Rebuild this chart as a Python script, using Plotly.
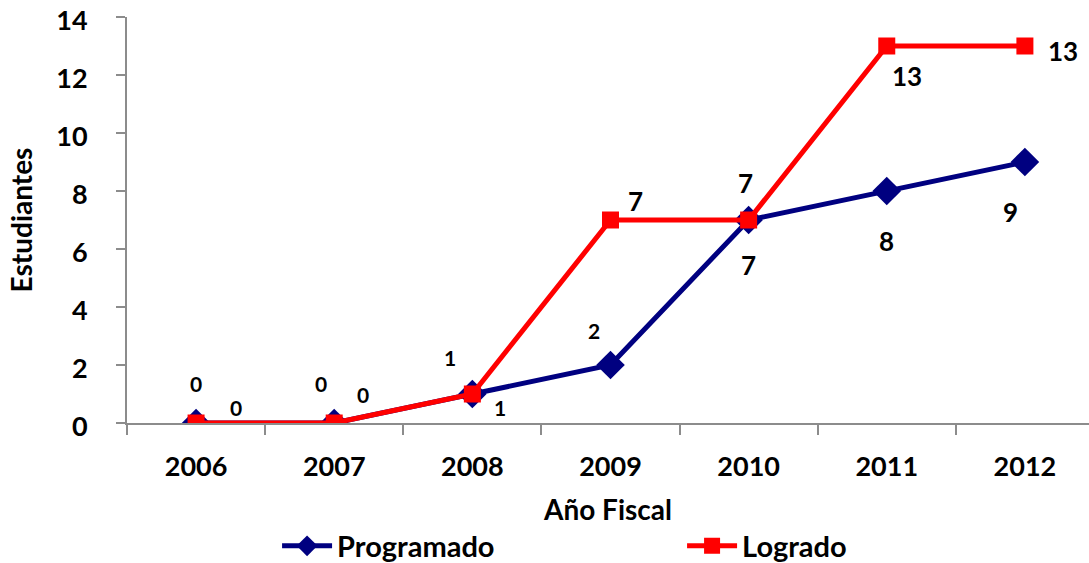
import plotly.graph_objects as go

years = ["2006", "2007", "2008", "2009", "2010", "2011", "2012"]
programado = [0, 0, 1, 2, 7, 8, 9]
logrado = [0, 0, 1, 7, 7, 13, 13]
y_ticks = [0, 2, 4, 6, 8, 10, 12, 14]

# label placement (pixel shifts) and sizes, style only
prog_shift = [(0, 40), (-13, 40), (-22, 37), (-16, 35), (0, -45), (0, -50), (-14, -50)]
prog_size = [21, 21, 21, 21, 26, 26, 26]
logr_shift = [(40, 16), (29, 29), (28, -13), (25, 19), (-3, 37), (20, -30), (38, -5)]
logr_size = [21, 21, 21, 26, 26, 26, 26]

FONT = "Lato"
fig = go.Figure()
fig.add_trace(go.Scatter(
    x=years, y=programado, name="Programado", mode="lines+markers",
    line=dict(color="#000080", width=5),
    marker=dict(symbol="diamond", size=22, color="#000080"),
))
fig.add_trace(go.Scatter(
    x=years, y=logrado, name="Logrado", mode="lines+markers",
    line=dict(color="#FF0000", width=5),
    marker=dict(symbol="square", size=17, color="#FF0000"),
))

annotations = []
for vals, shifts, sizes in ((programado, prog_shift, prog_size), (logrado, logr_shift, logr_size)):
    for i, (yv, (dx, dy), sz) in enumerate(zip(vals, shifts, sizes)):
        annotations.append(dict(
            x=i, y=yv, xref="x", yref="y", text=str(yv), showarrow=False,
            xshift=dx, yshift=dy,
            font=dict(family=FONT, size=sz, color="black", weight="bold"),
        ))

fig.update_layout(
    width=1089, height=563,
    margin=dict(l=127, r=0, t=17, b=140, autoexpand=False),
    paper_bgcolor="white", plot_bgcolor="white",
    font=dict(family=FONT, color="black"),
    annotations=annotations,
    showlegend=True,
    legend=dict(
        orientation="h", x=0.156, xanchor="left", y=-0.303, yanchor="middle",
        font=dict(family=FONT, size=29, color="black", weight="bold"),
        entrywidth=340, entrywidthmode="pixels", itemwidth=50,
        tracegroupgap=0, bgcolor="rgba(0,0,0,0)",
    ),
    xaxis=dict(
        type="category", range=[-0.5, 6.464], automargin=False,
        showline=True, linecolor="#8c8c8c", linewidth=2,
        ticks="outside", tickson="boundaries", ticklen=10, tickcolor="#8c8c8c", tickwidth=2,
        tickfont=dict(family=FONT, size=27, color="black", weight="bold"),
        ticklabelstandoff=19, ticklabeloverflow="allow",
        showgrid=False, zeroline=False,
        title=dict(text="Año Fiscal", standoff=19,
                   font=dict(family=FONT, size=28, color="black", weight="bold")),
    ),
    yaxis=dict(
        range=[0, 14], tickvals=y_ticks, automargin=False,
        showline=True, linecolor="#8c8c8c", linewidth=2,
        ticks="outside", ticklen=9, tickcolor="#8c8c8c", tickwidth=2,
        tickfont=dict(family=FONT, size=27, color="black", weight="bold"),
        ticklabelstandoff=23, ticklabeloverflow="allow", ticklabelshift=4,
        showgrid=False, zeroline=False,
        title=dict(text="Estudiantes", standoff=15,
                   font=dict(family=FONT, size=28, color="black", weight="bold")),
    ),
)

# remove the page's default body margin so the figure sits at the window's corner
fig.write_html("out.html", config={"displayModeBar": False},
               post_script="document.body.style.margin='0';")
